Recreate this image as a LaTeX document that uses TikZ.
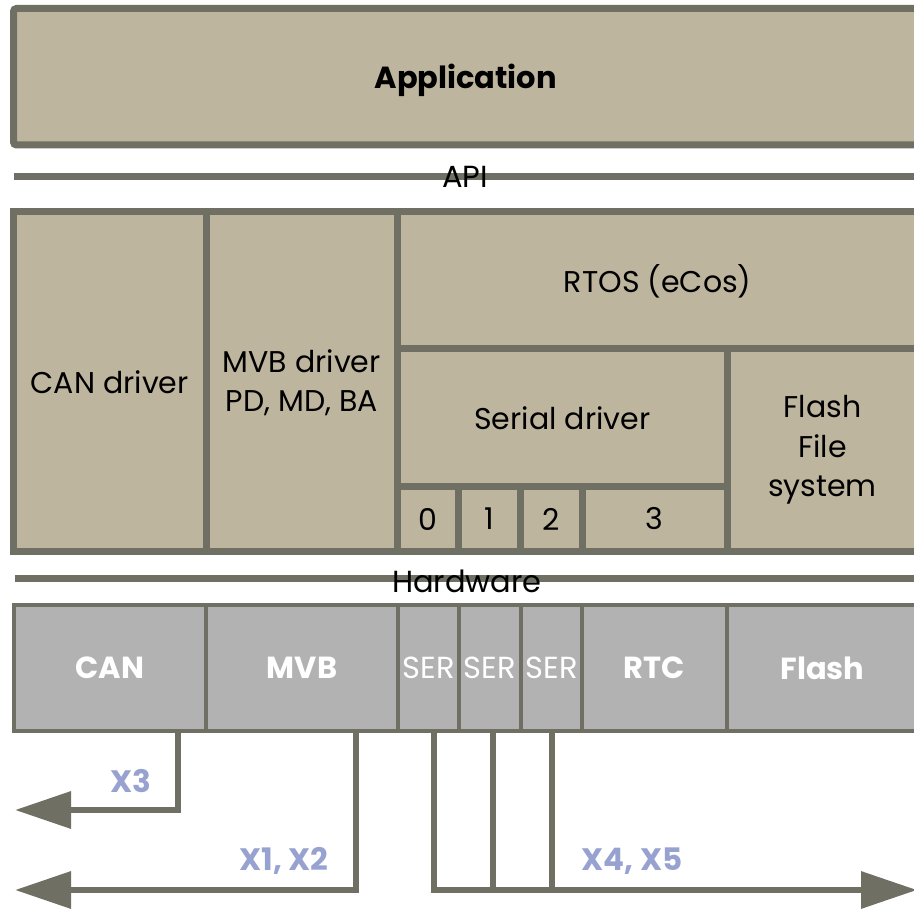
\documentclass[tikz,border=0pt]{standalone}
\usepackage{fontspec}
\setmainfont{Poppins}
\usetikzlibrary{arrows.meta,fit}
\definecolor{edge}{RGB}{112,111,99}
\definecolor{beige}{RGB}{190,181,158}
\definecolor{hwgray}{RGB}{178,178,178}
\definecolor{portblue}{RGB}{152,162,208}
\tikzset{
  swcell/.style={fill=beige, draw=edge, line width=7pt, inner sep=0pt},
  hwcell/.style={fill=hwgray, draw=edge, line width=3.5pt, inner sep=0pt},
  swtext/.style={inner sep=0pt, align=center, font=\fontsize{30}{39.5}\selectfont},
  hwtext/.style={inner sep=0pt, text=white, font=\fontsize{30.5}{36}\selectfont},
  hwbold/.style={hwtext, font=\fontsize{30.5}{36}\selectfont\bfseries},
  bar/.style={draw=edge, line width=7pt},
  barlabel/.style={inner sep=0pt, font=\fontsize{30.5}{36}\selectfont},
  conn/.style={draw=edge, line width=6.5pt},
  connarrow/.style={conn, -{Triangle[length=56pt,width=36pt]}},
  portlabel/.style={inner sep=0pt, text=portblue, font=\fontsize{31}{36}\selectfont\bfseries},
}
\begin{document}
\begin{tikzpicture}[x=1pt,y=-1pt]
\useasboundingbox (0,0) rectangle (914,909);
\clip (0,0) rectangle (914,909);

% application layer
\node[swcell, rounded corners=3pt, fit={(13.5,8.5) (918,145)}] (app) {};
\node[swtext, font=\fontsize{30.5}{36}\selectfont\bfseries] (apptext) at ([yshift=-4pt]app.center) {Application};

% API separator
\coordinate (apiL) at (14,177);
\coordinate (apiR) at (918,177);
\draw[bar] (apiL) -- (apiR);
\node[barlabel] (api) at (465,177) {API};

% software block
\node[swcell, rounded corners=3pt, fit={(13.5,212) (918,551)}] (sw) {};
\node[swcell, fit={(13.5,212) (206,551)}] (candrv) {};
\node[swcell, fit={(206,212) (397.5,551)}] (mvbdrv) {};
\node[swcell, fit={(397.5,212) (918,349)}] (rtos) {};
\node[swcell, fit={(397.5,349) (727,487)}] (serdrv) {};
\node[swcell, fit={(397.5,487) (458,551)}] (port0) {};
\node[swcell, fit={(458,487) (520,551)}] (port1) {};
\node[swcell, fit={(520,487) (582,551)}] (port2) {};
\node[swcell, fit={(582,487) (727,551)}] (port3) {};
\node[swcell, fit={(727,349) (918,551)}] (ffs) {};

\node[swtext] (candrvtext) at ([yshift=-1pt]candrv.center) {CAN driver};
\node[swtext] (mvbdrvtext) at ([yshift=-1pt]mvbdrv.center) {MVB driver\\PD, MD, BA};
\node[swtext] (rtostext) at ([yshift=-1pt]rtos.center) {RTOS (eCos)};
\node[swtext] (serdrvtext) at (serdrv.center) {Serial driver};
\node[swtext] (port0text) at (port0.center) {0};
\node[swtext] (port1text) at (port1.center) {1};
\node[swtext] (port2text) at (port2.center) {2};
\node[swtext] (port3text) at (port3.center) {3};
\node[swtext] (ffstext) at (ffs.center) {Flash\\File\\system};

% hardware separator
\coordinate (hwL) at (15,578);
\coordinate (hwR) at (918,578);
\draw[bar] (hwL) -- (hwR);
\node[barlabel] (hwtitle) at (467,581) {Hardware};

% hardware block
\node[hwcell, fit={(14,605) (206,731)}] (can) {};
\node[hwcell, fit={(206,605) (398,731)}] (mvb) {};
\node[hwcell, fit={(398,605) (459,731)}] (ser0) {};
\node[hwcell, fit={(459,605) (521,731)}] (ser1) {};
\node[hwcell, fit={(521,605) (582,731)}] (ser2) {};
\node[hwcell, fit={(582,605) (727,731)}] (rtc) {};
\node[hwcell, fit={(727,605) (918,731)}] (flash) {};

\node[hwbold] (cantext) at (can.center) {CAN};
\node[hwbold] (mvbtext) at (mvb.center) {MVB};
\node[hwtext] (ser0text) at (ser0.center) {SER};
\node[hwtext] (ser1text) at (ser1.center) {SER};
\node[hwtext] (ser2text) at (ser2.center) {SER};
\node[hwbold] (rtctext) at (rtc.center) {RTC};
\node[hwbold] (flashtext) at (flash.center) {Flash};

% external connectors
\coordinate (x3end) at (15,810);
\coordinate (x12end) at (15,890);
\coordinate (x45end) at (917,890);
\coordinate (canout) at ([xshift=68pt]can.south);
\coordinate (mvbout) at ([xshift=54pt]mvb.south);
\coordinate (ser0out) at ([xshift=5.5pt]ser0.south);
\coordinate (ser1out) at ([xshift=3pt]ser1.south);
\coordinate (ser2out) at ([xshift=0.5pt]ser2.south);

\draw[connarrow] (canout) |- (x3end);
\draw[connarrow] (mvbout) |- (x12end);
\draw[connarrow] (ser0out) |- (x45end);
\draw[conn] (ser1out) -- (ser1out |- x45end);
\draw[conn] (ser2out) -- (ser2out |- x45end);

\node[portlabel] (x3) at (131,781) {X3};
\node[portlabel] (x12) at (284,861) {X1, X2};
\node[portlabel] (x45) at (632,861) {X4, X5};
\end{tikzpicture}
\end{document}
